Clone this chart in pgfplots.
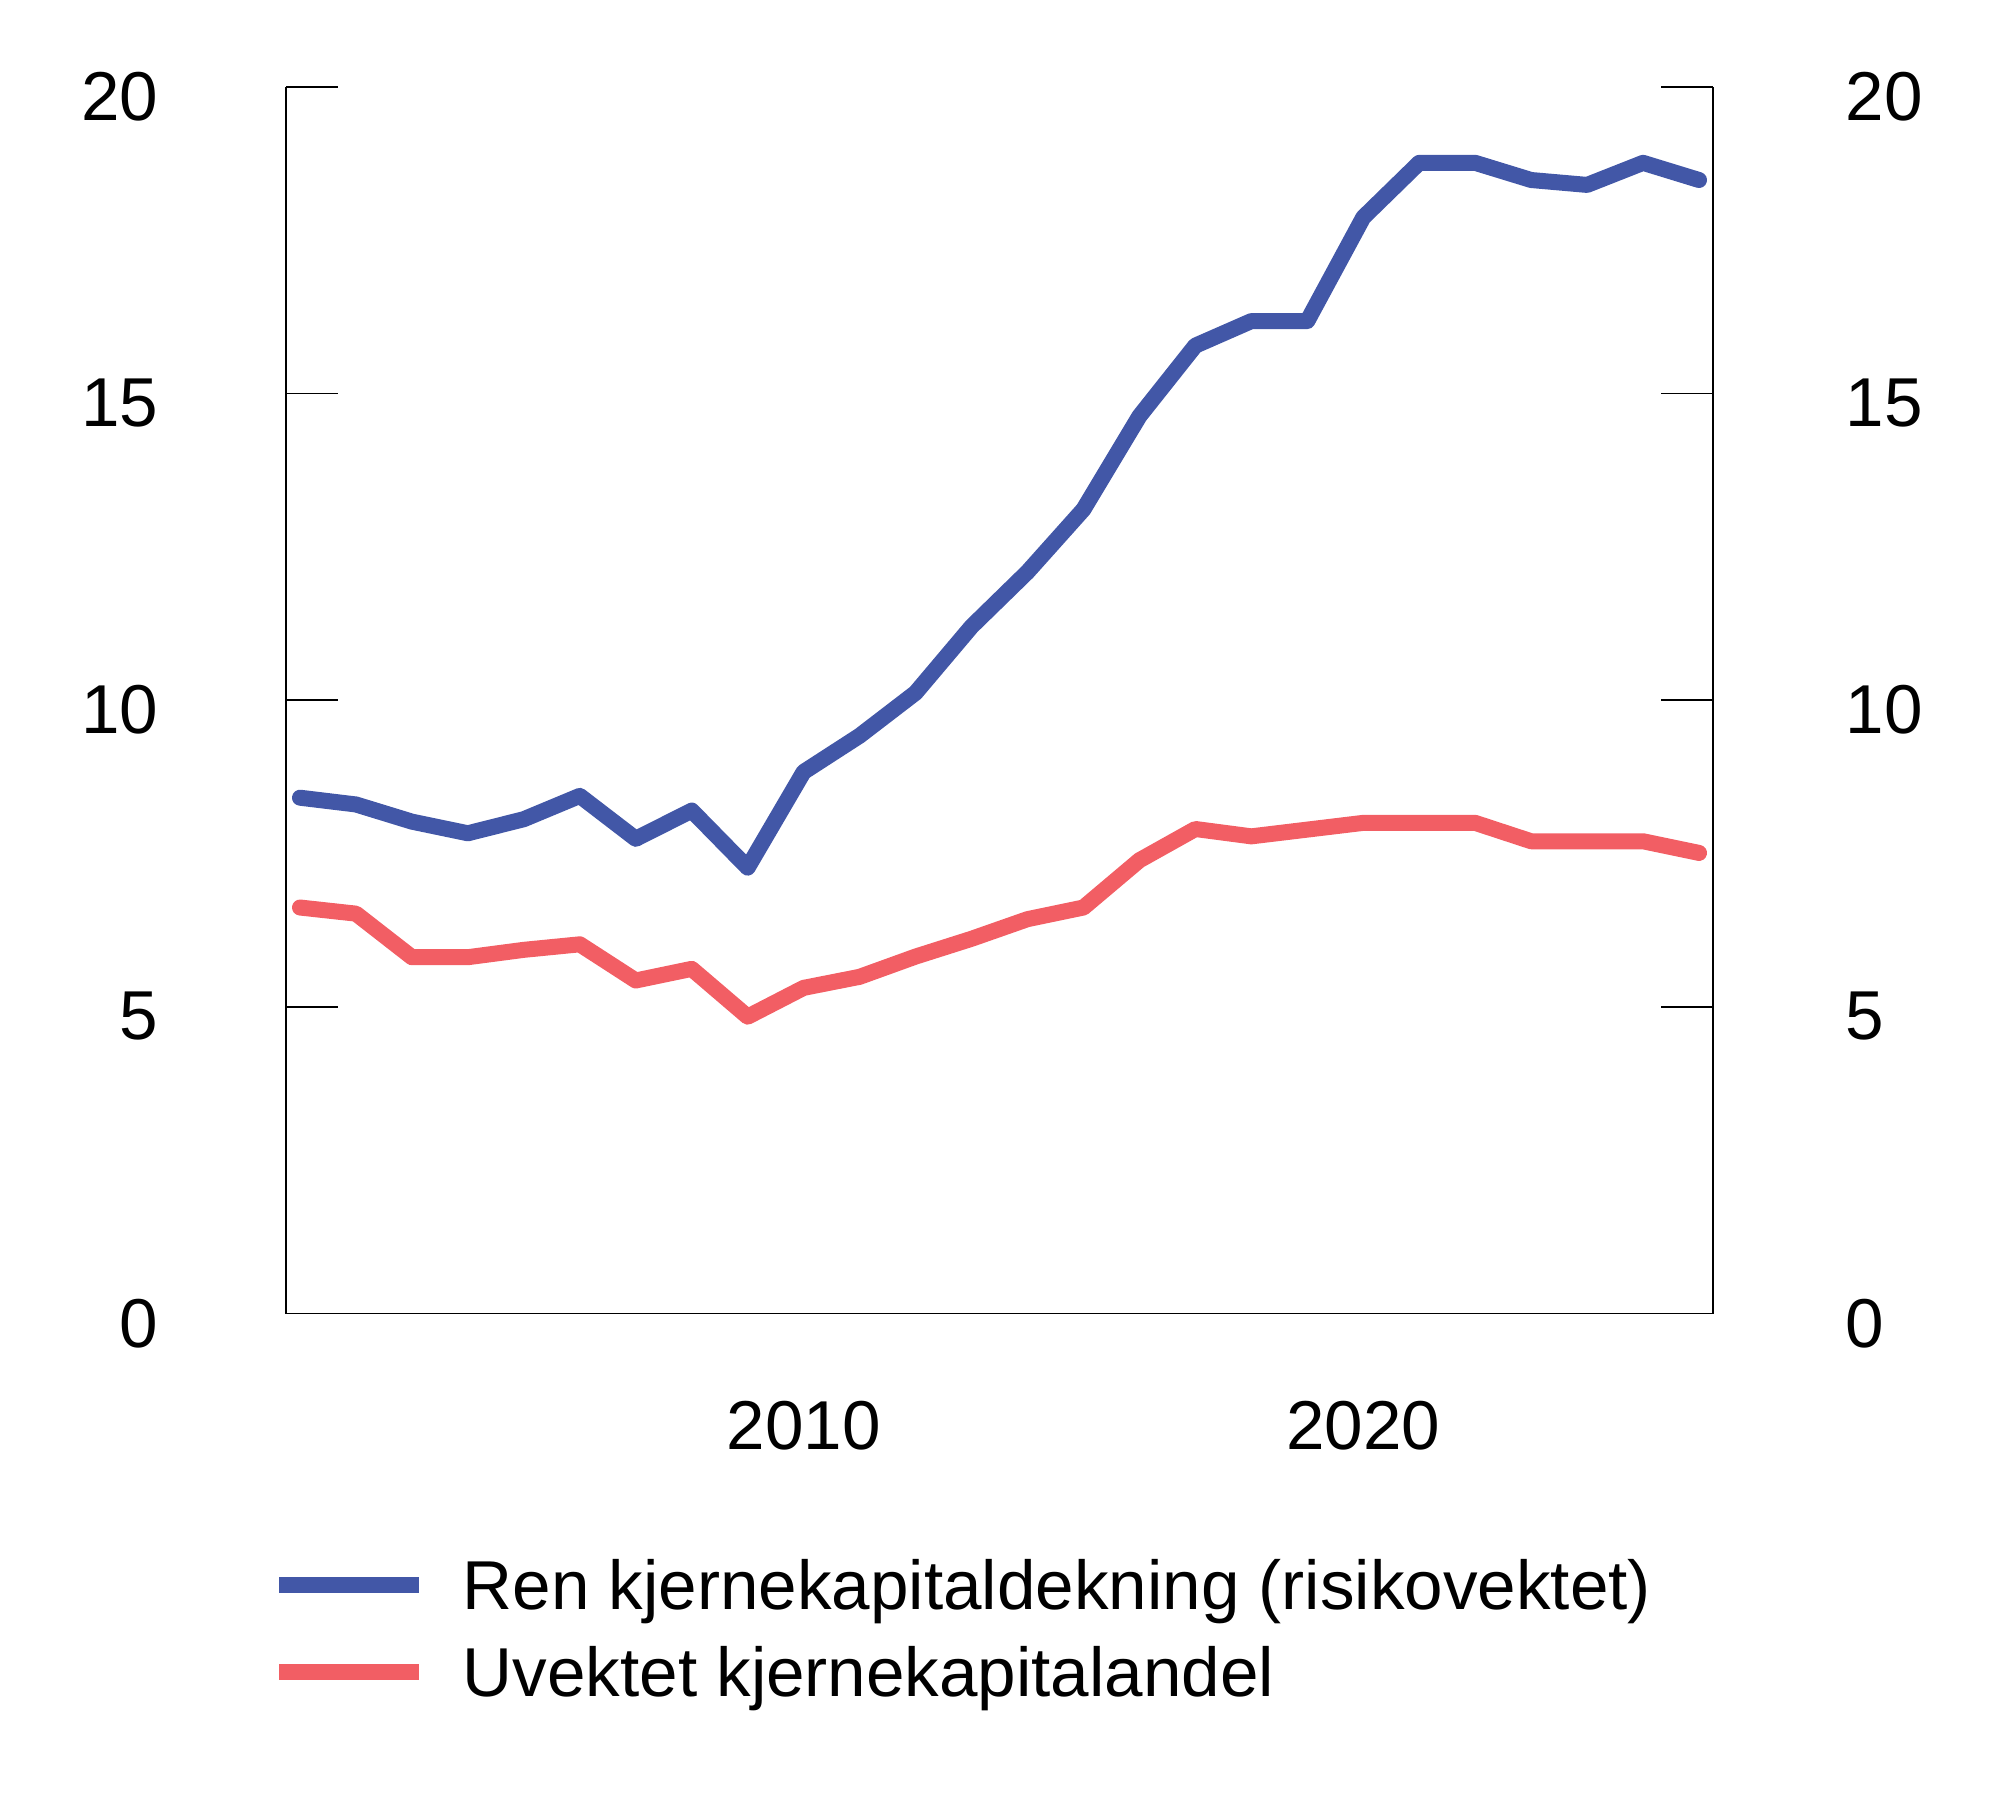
\documentclass[border=0pt]{standalone}
\usepackage{fontspec}
\setmainfont{Liberation Sans}
\usepackage{pgfplots}
\pgfplotsset{compat=1.18}

\definecolor{nbblue}{RGB}{66,87,167}
\definecolor{nbred}{RGB}{242,94,100}

\pgfplotstableread{
year ren uvektet
2001 8.41 6.62
2002 8.30 6.52
2003 8.02 5.81
2004 7.83 5.81
2005 8.06 5.93
2006 8.44 6.02
2007 7.74 5.43
2008 8.20 5.62
2009 7.27 4.84
2010 8.83 5.31
2011 9.42 5.49
2012 10.12 5.82
2013 11.20 6.11
2014 12.09 6.43
2015 13.11 6.62
2016 14.63 7.39
2017 15.78 7.90
2018 16.18 7.78
2019 16.18 7.89
2020 17.87 8.00
2021 18.76 8.00
2022 18.76 8.00
2023 18.48 7.70
2024 18.40 7.70
2025 18.76 7.70
2026 18.48 7.51
}\kapital

\pgfplotsset{
  felles/.style={
    scale only axis, width=356.75pt, height=306.7pt,
    at={(71.5pt,125.6pt)}, anchor=south west,
    xmin=2000.75, xmax=2026.25, ymin=0, ymax=20,
    ytick={0,5,10,15,20},
    tick align=inside, major tick length=13pt,
    major tick style={black, line width=0.45pt},
    axis line style={black, line width=0.45pt, -},
    tick label style={font=\fontsize{17.3pt}{20pt}\selectfont, inner sep=0pt},
    /pgf/number format/assume math mode=true,
    /pgf/number format/1000 sep={},
  }
}

\begin{document}
\begin{tikzpicture}
\useasboundingbox (0,0) rectangle (500pt,454pt);
\begin{axis}[
    felles,
    axis x line*=bottom, axis y line*=left,
    xtick={2010,2020}, xtick style={draw=none},
    xticklabel style={anchor=north, yshift=-21.6pt},
    yticklabel style={anchor=east, xshift=-31.8pt, yshift=-2.4pt},
    legend style={at={(axis description cs:-0.0109,-0.2003)}, anchor=north west,
      draw=none, fill=none, inner sep=0pt, row sep=9.3pt,
      font=\fontsize{17.3pt}{20pt}\selectfont,
      nodes={inner sep=0pt, text height=12.4pt, text depth=0pt},
      /tikz/every odd column/.style={column sep=8.85pt}},
    legend cell align=left,
    legend image code/.code={\draw[#1, line width=4pt, line cap=butt] (0pt,0pt) -- (35pt,0pt);},
  ]
  \addplot[nbblue, line width=4pt, line cap=round, line join=round] table[x=year, y=ren] {\kapital};
  \addlegendentry{Ren kjernekapitaldekning (risikovektet)}
  \addplot[nbred, line width=4pt, line cap=round, line join=round] table[x=year, y=uvektet] {\kapital};
  \addlegendentry{Uvektet kjernekapitalandel}
\end{axis}
\begin{axis}[
    felles,
    axis x line=none, axis y line*=right,
    yticklabel style={anchor=west, xshift=33pt, yshift=-2.4pt},
  ]
\end{axis}
\end{tikzpicture}
\end{document}
